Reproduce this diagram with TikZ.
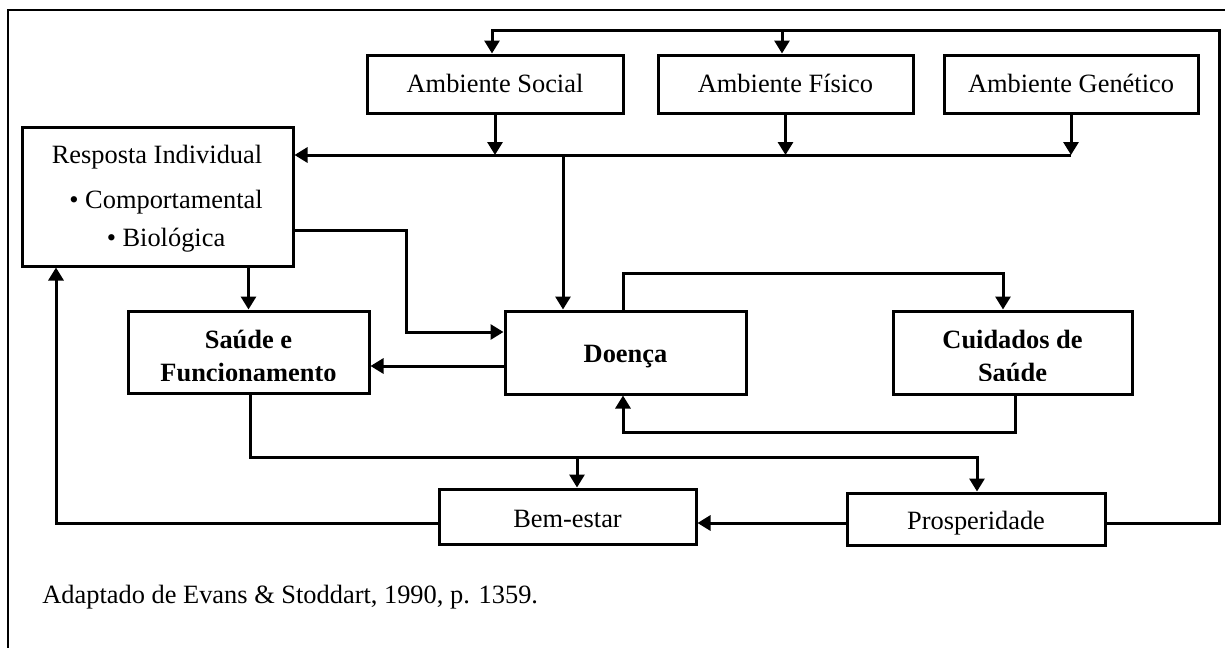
\documentclass[tikz,border=0pt]{standalone}
\usepackage{fontspec}
\setmainfont{Liberation Serif}
\usetikzlibrary{arrows.meta}
\begin{document}
\begin{tikzpicture}[x=0.5pt,y=-0.5pt,
  font=\fontsize{13.2pt}{15.8pt}\selectfont,
  box/.style 2 args={draw, line width=1.5pt, rectangle, inner sep=0pt,
    minimum width=#1*0.5pt, minimum height=#2*0.5pt},
  bl/.style={text height=#1pt, text depth=0pt},
  txt/.style={inner sep=0pt, anchor=base},
  bold/.style={txt, font=\fontsize{13.2pt}{15.8pt}\selectfont\bfseries},
  arr/.style={line width=1.5pt, line join=miter,
    -{Triangle[length=6.5pt,width=7.5pt]}},
  frame/.style={line width=1.2pt}]
\useasboundingbox (0,0) rectangle (1225,648);

% open frame around the figure
\draw[frame] (1225,10) -- (8,10) -- (8,648);

% environment boxes
\node[box={256}{58}, bl=8] (soc) at (495,84) {Ambiente Social};
\node[box={255}{58}, bl=8] (fis) at (785.5,84) {Ambiente Físico};
\node[box={254}{58}, bl=8] (gen) at (1071,84) {Ambiente Genético};

% individual response
\node[box={271}{139}] (resp) at (157.5,196.5) {};
\node[txt] (respA) at (157,163) {Resposta Individual};
\node[txt] (respB) at (166,208) {• Comportamental};
\node[txt] (respC) at (166,246) {• Biológica};

% health and functioning (second line cut by the text frame)
\node[box={241}{82}] (sau) at (248.5,352) {};
\node[bold] (sauA) at (248.5,348) {Saúde e};
\begin{scope}
  \clip (129,312) rectangle (368,380.5);
  \node[bold] (sauB) at (248.5,381.5) {Funcionamento};
\end{scope}

% disease
\node[box={241}{83}, bl=9.5, font=\fontsize{13.2pt}{15.8pt}\selectfont\bfseries]
  (doe) at (625.5,352.5) {Doença};

% health care (second line cut by the text frame)
\node[box={239}{83}] (cui) at (1012.5,352.5) {};
\node[bold] (cuiA) at (1012.5,348) {Cuidados de};
\begin{scope}
  \clip (894,312) rectangle (1131,380.5);
  \node[bold] (cuiB) at (1012.5,381.5) {Saúde};
\end{scope}

% well-being and prosperity
\node[box={257}{55}, bl=10.5] (bem) at (567.5,516.5) {Bem-estar};
\node[box={258}{52}, bl=10] (pros) at (976,519) {Prosperidade};

% source note
\node[inner sep=0pt, anchor=base west] (src) at (42,603)
  {Adaptado de Evans \& Stoddart, 1990, p. 1359.};

% turning points of the connectors
\coordinate (bus) at (563,155);
\coordinate (rk) at (406,230);
\coordinate (rj) at (406,332);
\coordinate (ds) at (440,366);
\coordinate (dc1) at (623,273);
\coordinate (dc2) at (1003,273);
\coordinate (cd1) at (1015,432);
\coordinate (cd2) at (623,432);
\coordinate (sb1) at (250,457);
\coordinate (sb2) at (977,457);
\coordinate (sbB) at (577,457);
\coordinate (pb) at (770,523);
\coordinate (lf) at (56,523);
\coordinate (rt) at (1219,523);
\coordinate (tp) at (1219,30);
\coordinate (ts) at (492,30);
\coordinate (tf) at (782,30);

% environments feed the common line
\draw[arr] (soc.south) -- (soc.south |- bus);
\draw[arr] (fis.south) -- (fis.south |- bus);
\draw[arr] (gen.south) -- (gen.south |- bus);
\draw[arr] (gen.south |- bus) -- (resp.east |- bus);
\draw[arr] (bus) -- (bus |- doe.north);

% response to disease and to health
\draw[arr] (resp.east |- rk) -- (rk) -- (rj) -- (doe.west |- rj);
\draw[arr] (sau.north |- resp.south) -- (sau.north);

% disease, health and care
\draw[arr] (doe.west |- ds) -- (sau.east |- ds);
\draw[arr] (dc1 |- doe.north) -- (dc1) -- (dc2) -- (dc2 |- cui.north);
\draw[arr] (cd1 |- cui.south) -- (cd1) -- (cd2) -- (cd2 |- doe.south);

% health to well-being and prosperity
\draw[arr] (sb1 |- sau.south) -- (sb1) -- (sb2) -- (sb2 |- pros.north);
\draw[arr] (sbB) -- (sbB |- bem.north);
\draw[arr] (pros.west |- pb) -- (bem.east |- pb);

% feedback loops
\draw[arr] (bem.west |- pb) -- (lf) -- (lf |- resp.south);
\draw[arr] (pros.east |- pb) -- (rt) -- (tp) -- (ts) -- (ts |- soc.north);
\draw[arr] (tf) -- (tf |- fis.north);
\end{tikzpicture}
\end{document}
